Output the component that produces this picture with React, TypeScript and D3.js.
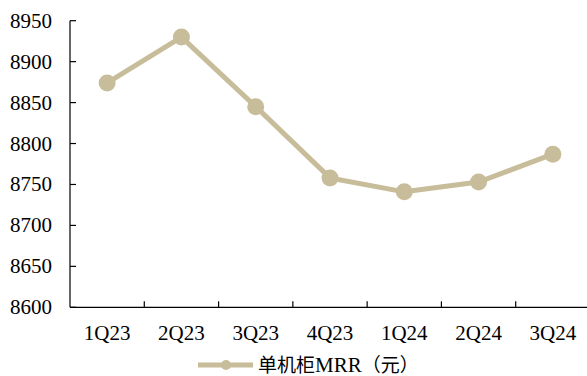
import React from "react";
import * as d3 from "d3";

const categories = ["1Q23", "2Q23", "3Q23", "4Q23", "1Q24", "2Q24", "3Q24"];
const mrrValues = [8874, 8930, 8845, 8758, 8741, 8753, 8787];
const yTicks = [8600, 8650, 8700, 8750, 8800, 8850, 8900, 8950];
const legendCjk = "单机柜";
const legendLatin = "MRR";
const legendUnit = "（元）";

const W = 587;
const H = 376;
const left = 70;
const right = 590;
const top = 20.7;
const bottom = 307.3;
const color = "#C8BD9A";
const serif = "'Liberation Serif', 'Times New Roman', serif";
const cjk = "'Noto Sans CJK SC', sans-serif";

export default function App() {
  const x = d3.scaleBand<string>().domain(categories).range([left, right]);
  const y = d3.scaleLinear().domain([8600, 8950]).range([bottom, top]);
  const cx = (i: number) => (x(categories[i]) as number) + x.bandwidth() / 2;
  const line = d3
    .line<number>()
    .x((_, i) => cx(i))
    .y((d) => y(d));

  return (
    <svg
      width={W}
      height={H}
      style={{ position: "absolute", left: 0, top: 0, background: "#fff" }}
    >
      {/* y axis */}
      <line x1={left} x2={left} y1={top} y2={bottom} stroke="#000" strokeWidth={1.2} />
      {yTicks.map((t) => (
        <g key={t}>
          <line x1={left} x2={left + 6} y1={y(t)} y2={y(t)} stroke="#000" strokeWidth={1.2} />
          <text
            x={52}
            y={y(t) + 7}
            textAnchor="end"
            fontFamily={serif}
            fontSize={21}
            fill="#000"
          >
            {t}
          </text>
        </g>
      ))}
      {/* x axis */}
      <line x1={left} x2={right} y1={bottom} y2={bottom} stroke="#000" strokeWidth={1.2} />
      {categories.slice(1).map((c) => (
        <line
          key={c}
          x1={x(c) as number}
          x2={x(c) as number}
          y1={bottom}
          y2={bottom - 6}
          stroke="#000"
          strokeWidth={1.2}
        />
      ))}
      {categories.map((c, i) => (
        <text
          key={c}
          x={cx(i)}
          y={340}
          textAnchor="middle"
          fontFamily={serif}
          fontSize={21}
          fill="#000"
        >
          {c}
        </text>
      ))}
      {/* series */}
      <path d={line(mrrValues) || ""} fill="none" stroke={color} strokeWidth={5} strokeLinejoin="round" />
      {mrrValues.map((v, i) => (
        <circle key={i} cx={cx(i)} cy={y(v)} r={8.5} fill={color} />
      ))}
      {/* legend */}
      <line x1={198} x2={253} y1={365} y2={365} stroke={color} strokeWidth={5} />
      <circle cx={226} cy={365} r={5} fill={color} />
      <text x={258} y={372} fill="#000" fontSize={19}>
        <tspan fontFamily={cjk}>{legendCjk}</tspan>
        <tspan fontFamily={serif} fontSize={21}>{legendLatin}</tspan>
        <tspan fontFamily={cjk}>{legendUnit}</tspan>
      </text>
    </svg>
  );
}
